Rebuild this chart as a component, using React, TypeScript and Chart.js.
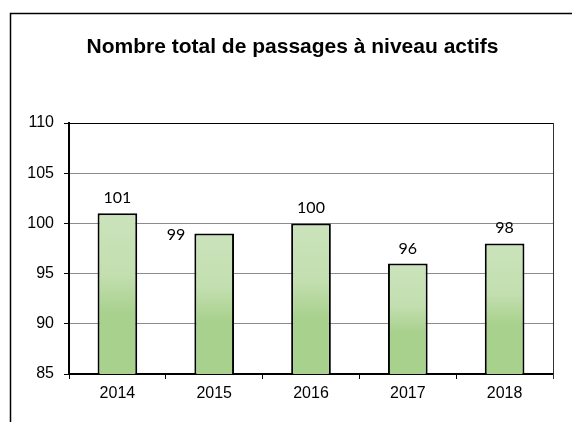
import React, { useEffect, useRef } from "react";
import { Chart, registerables } from "chart.js";

Chart.register(...registerables);

const TITLE = "Nombre total de passages à niveau actifs";
const categories = ["2014", "2015", "2016", "2017", "2018"];
const values = [101, 99, 100, 96, 98];
// where each value label sits relative to its bar
const labelPlacement = ["above", "left", "above", "above", "above"];
const yMin = 85;
const yMax = 110;
const yStep = 5;

const framePlugin = {
  id: "frame",
  beforeDraw(chart: any) {
    const { ctx, width, height } = chart;
    ctx.save();
    ctx.fillStyle = "#ffffff";
    ctx.fillRect(0, 0, width, height);
    ctx.strokeStyle = "#000000";
    ctx.lineWidth = 1.5;
    ctx.beginPath();
    ctx.moveTo(10.5, height);
    ctx.lineTo(10.5, 13.5);
    ctx.lineTo(width, 13.5);
    ctx.stroke();
    ctx.restore();
  },
  afterDraw(chart: any) {
    const { ctx, chartArea } = chart;
    ctx.save();
    // title
    ctx.fillStyle = "#000000";
    ctx.font = "bold 21px 'Liberation Sans', Arial, sans-serif";
    ctx.textAlign = "center";
    ctx.textBaseline = "alphabetic";
    ctx.fillText(TITLE, 292.5, 53);
    // plot area right border
    ctx.strokeStyle = "#333333";
    ctx.lineWidth = 1;
    ctx.beginPath();
    ctx.moveTo(Math.round(chartArea.right) + 0.5, chartArea.top);
    ctx.lineTo(Math.round(chartArea.right) + 0.5, chartArea.bottom + 5);
    ctx.stroke();
    // value labels
    const meta = chart.getDatasetMeta(0);
    ctx.font = "16px Lato, 'Open Sans', sans-serif";
    meta.data.forEach((bar: any, i: number) => {
      const txt = String(values[i]);
      if (labelPlacement[i] === "left") {
        ctx.textAlign = "right";
        ctx.textBaseline = "middle";
        ctx.fillText(txt, bar.x - bar.width / 2 - 9, bar.y + 1);
      } else {
        ctx.textAlign = "center";
        ctx.textBaseline = "alphabetic";
        ctx.fillText(txt, bar.x, bar.y - 10);
      }
    });
    ctx.restore();
  },
};

function barGradient(context: any) {
  const chart = context.chart;
  const ys = chart.scales && chart.scales.y;
  if (!ys || context.dataIndex === undefined) return "#b5d89d";
  const top = ys.getPixelForValue(values[context.dataIndex]);
  const bottom = ys.getPixelForValue(yMin);
  if (!isFinite(top) || !isFinite(bottom) || top === bottom) return "#b5d89d";
  const g = chart.ctx.createLinearGradient(0, top, 0, bottom);
  g.addColorStop(0, "#cbe3bb");
  g.addColorStop(0.38, "#c3dfb0");
  g.addColorStop(0.62, "#a9d18e");
  g.addColorStop(1, "#a9d18e");
  return g;
}

export default function App() {
  const ref = useRef<HTMLCanvasElement | null>(null);
  useEffect(() => {
    if (!ref.current) return;
    const chart = new Chart(ref.current, {
      type: "bar",
      data: {
        labels: categories,
        datasets: [
          {
            data: values,
            backgroundColor: barGradient,
            borderColor: "#000000",
            borderWidth: 2,
            borderSkipped: false,
            categoryPercentage: 1,
            barPercentage: 0.41,
          },
        ],
      },
      plugins: [framePlugin],
      options: {
        animation: false,
        responsive: false,
        maintainAspectRatio: false,
        devicePixelRatio: 1,
        layout: { padding: { left: 0, right: 19, top: 123, bottom: 0 } },
        plugins: {
          legend: { display: false },
          tooltip: { enabled: false },
          title: { display: false },
        },
        scales: {
          x: {
            offset: true,
            grid: {
              offset: true,
              drawOnChartArea: false,
              drawTicks: true,
              tickLength: 5,
              color: "#000000",
              lineWidth: 1,
            },
            border: { display: true, color: "#000000", width: 2 },
            ticks: {
              color: "#000000",
              padding: 5,
              font: { family: "'Liberation Sans', Arial, sans-serif", size: 16 },
            },
            afterFit(scale: any) {
              scale.height = 48;
            },
          },
          y: {
            min: yMin,
            max: yMax,
            ticks: {
              stepSize: yStep,
              color: "#000000",
              padding: 10,
              font: { family: "'Liberation Sans', Arial, sans-serif", size: 16 },
            },
            grid: {
              drawTicks: true,
              tickLength: 5,
              color: (ctx: any) =>
                ctx.tick && ctx.tick.value === yMax ? "#000000" : "#8c8c8c",
              tickColor: "#000000",
              lineWidth: 1,
            },
            border: { display: true, color: "#000000", width: 2 },
            afterFit(scale: any) {
              scale.width = 69;
            },
          },
        },
      },
    });
    return () => chart.destroy();
  }, []);
  return (
    <div style={{ position: "fixed", left: 0, top: 0, width: 572, height: 422 }}>
      <canvas ref={ref} width={572} height={422} style={{ display: "block" }} />
    </div>
  );
}
